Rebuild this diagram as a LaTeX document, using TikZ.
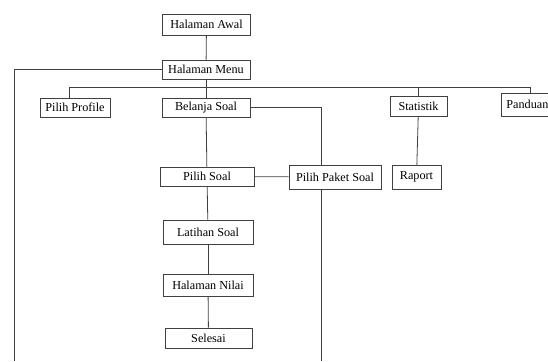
\documentclass[tikz,border=0pt]{standalone}
\usepackage{fontspec}
\setmainfont{Liberation Serif}
\begin{document}
\begin{tikzpicture}[x=1pt,y=-1pt,
  box/.style={draw=black!75,line width=0.8pt,inner sep=0pt,font=\fontsize{12.2}{13}\selectfont},
  conn/.style={draw=black!75,line width=0.8pt}]
\clip (0,0) rectangle (548,361);
\useasboundingbox (0,0) rectangle (548,361);
\node[box,minimum width=88,minimum height=21] (awal) at (206.5,24.5) {Halaman Awal};
\node[box,minimum width=88,minimum height=19] (menu) at (206,69.5) {Halaman Menu};
\node[box,minimum width=70,minimum height=19] (profile) at (75,107.5) {Pilih Profile};
\node[box,minimum width=88,minimum height=19] (belanja) at (206,107.5) {Belanja Soal};
\node[box,minimum width=57,minimum height=20] (statistik) at (418.5,106) {Statistik};
\node[box,inner xsep=5pt,minimum height=23,anchor=west] (panduan) at (501,104.5) {Panduan};
\node[box,minimum width=94,minimum height=19] (pilihsoal) at (207,176.5) {Pilih Soal};
\node[box,minimum width=92,minimum height=24] (paket) at (335,177) {Pilih Paket Soal};
\node[box,minimum width=49,minimum height=24] (raport) at (416.5,177) {Raport};
\node[box,minimum width=90,minimum height=24] (latihan) at (208,232) {Latihan Soal};
\node[box,minimum width=90,minimum height=22] (nilai) at (208,285) {Halaman Nilai};
\node[box,minimum width=87,minimum height=20] (selesai) at (208.5,338) {Selesai};
\coordinate (busL) at (69,87);
\coordinate (busR) at (530,87);
\coordinate (leftend) at (14,361);
\coordinate (pk) at (321,107.5);
\coordinate (pkend) at (321,361);
\draw[conn] (awal) -- (menu);
\draw[conn] (menu.west) -| (leftend);
\draw[conn] (busL |- profile.north) -- (busL) -- (busR) -- (busR |- panduan.north);
\draw[conn] (statistik.north) -- (statistik.north |- busL);
\draw[conn] (menu) -- (belanja);
\draw[conn] (belanja.east) -- (pk) -- (pk |- paket.north);
\draw[conn] (belanja) -- (pilihsoal);
\draw[conn] (pilihsoal) -- (paket);
\draw[conn] (pk |- paket.south) -- (pkend);
\draw[conn] (statistik) -- (raport);
\draw[conn] (pilihsoal) -- (latihan);
\draw[conn] (latihan) -- (nilai);
\draw[conn] (nilai) -- (selesai);
\end{tikzpicture}
\end{document}
